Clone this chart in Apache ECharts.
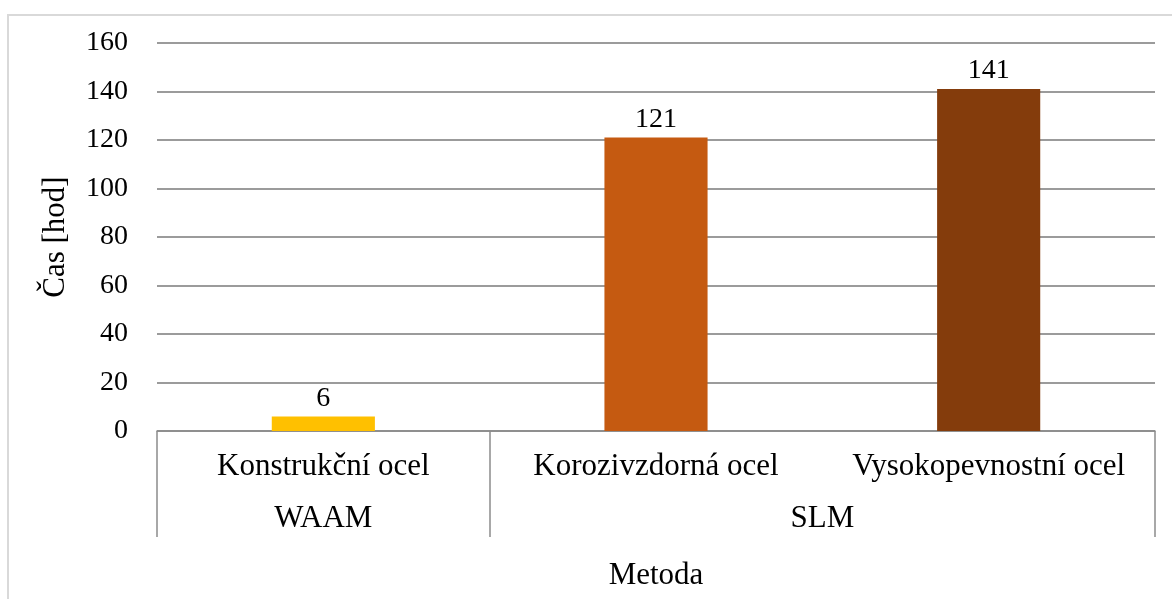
<!DOCTYPE html>
<html>
<head>
    <meta charset="utf-8">
    <title>Čas podle metody</title>
    <script type="text/javascript" src="https://cdn.jsdelivr.net/npm/echarts@6/dist/echarts.min.js"></script>
    <style>
        html, body { margin: 0; padding: 0; background: #fff; }
    </style>
</head>
<body>
    <div id="main" style="width: 1172px;height:599px;"></div>
    <script type="text/javascript">
        // data
        var categories = ['Konstrukční ocel', 'Korozivzdorná ocel', 'Vysokopevnostní ocel'];
        var values = [6, 121, 141];
        var barColors = ['#FFC000', '#C55A11', '#843C0C'];
        var groups = ['WAAM', 'SLM'];
        var groupCenters = [0.5, 2];      // in category units (0..3)
        var groupBounds = [0, 1, 3];
        var yTicks = [0, 20, 40, 60, 80, 100, 120, 140, 160];

        var font = 'Liberation Serif';
        var fs = 31;     // text labels
        var fsNum = 28;  // numbers

        var myChart = echarts.init(document.getElementById('main'));
        var option = {
            animation: false,
            backgroundColor: '#fff',
            textStyle: { fontFamily: font },
            graphic: [{
                type: 'rect',
                shape: { x: 8, y: 15, width: 1175, height: 600 },
                style: { fill: 'none', stroke: '#d9d9d9', lineWidth: 2 },
                silent: true
            }],
            grid: { left: 157, right: 17, top: 43, bottom: 168 },
            xAxis: [{
                type: 'category',
                data: categories,
                axisLine: { lineStyle: { color: '#8c8c8c', width: 1.5 } },
                axisTick: { show: false },
                axisLabel: { color: '#000', fontSize: fs, fontFamily: font, margin: 20, interval: 0 },
                name: 'Metoda',
                nameLocation: 'middle',
                nameGap: 129,
                nameTextStyle: { color: '#000', fontSize: fs, fontFamily: font }
            }, {
                type: 'value',
                position: 'bottom',
                min: 0,
                max: 3,
                axisLine: { show: false },
                splitLine: { show: false },
                axisTick: {
                    show: true,
                    customValues: groupBounds,
                    length: 106,
                    lineStyle: { color: '#8c8c8c', width: 1.5 }
                },
                axisLabel: {
                    show: true,
                    customValues: groupCenters,
                    margin: 72,
                    color: '#000',
                    fontSize: fs,
                    fontFamily: font,
                    formatter: function (v) {
                        var i = groupCenters.indexOf(v);
                        return i >= 0 ? groups[i] : '';
                    }
                }
            }],
            yAxis: {
                type: 'value',
                min: yTicks[0],
                max: yTicks[yTicks.length - 1],
                interval: 20,
                axisLine: { show: false },
                axisTick: { show: false },
                axisLabel: { color: '#000', fontSize: fsNum, fontFamily: font, margin: 29 },
                splitLine: { lineStyle: { color: '#7a7a7a', width: 1.5 } },
                name: 'Čas [hod]',
                nameLocation: 'middle',
                nameGap: 86,
                nameTextStyle: { color: '#000', fontSize: fs, fontFamily: font }
            },
            series: [{
                type: 'bar',
                xAxisIndex: 0,
                barWidth: '31%',
                data: values.map(function (v, i) {
                    return { value: v, itemStyle: { color: barColors[i] } };
                }),
                label: {
                    show: true,
                    position: 'top',
                    distance: 4,
                    color: '#000',
                    fontSize: fsNum,
                    fontFamily: font
                }
            }]
        };
        myChart.setOption(option);
    </script>
</body>
</html>
